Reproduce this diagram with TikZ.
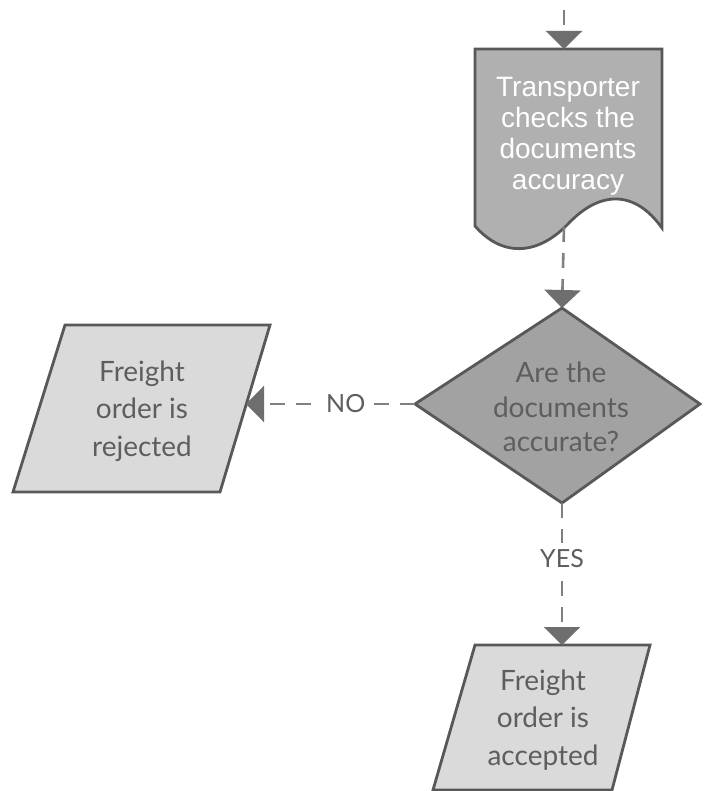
\documentclass[tikz,border=0pt]{standalone}
\usepackage{fontspec}
\setmainfont{Lato}
\newfontfamily\docfont{Liberation Sans}
\usetikzlibrary{arrows.meta}
\definecolor{edgegray}{HTML}{585858}
\definecolor{linkgray}{HTML}{808080}
\definecolor{tipgray}{HTML}{6E6E6E}
\definecolor{docfill}{HTML}{B0B0B0}
\definecolor{decfill}{HTML}{A2A2A2}
\definecolor{iofill}{HTML}{DADADA}
\definecolor{textgray}{HTML}{5E5E5E}
\begin{document}
\begin{tikzpicture}[x=1pt,y=-1pt,
  shapeedge/.style={draw=edgegray,line width=2.8pt,line join=miter},
  flowlabel/.style={text=textgray,font=\fontsize{28}{37.5}\selectfont,align=center,inner sep=0pt},
  decisionlabel/.style={flowlabel,font=\fontsize{28}{34.5}\selectfont},
  doclabel/.style={text=white,font=\docfont\fontsize{28}{31}\selectfont,align=center,inner sep=0pt},
  link/.style={draw=linkgray,line width=2.6pt,dash pattern=on 15pt off 11pt,
    -{Triangle[length=18pt,width=36pt,color=tipgray]}},
  linklabel/.style={text=textgray,font=\fontsize{25}{28}\selectfont,fill=white,inner sep=6pt}]
\useasboundingbox (0,0) rectangle (704,791);
\fill[white] (0,0) rectangle (704,791);

% document shape: transporter check
\path[shapeedge,fill=docfill] (475,49) -- (662,49) -- (662,228)
  .. controls (635,190) and (600,190) .. (568,224)
  .. controls (535,258) and (500,255) .. (475,226) -- cycle;
\node[doclabel] (check) at (568,136) {Transporter\\checks the\\documents\\accuracy};
\coordinate (checktop) at (564,49);
\coordinate (checkbot) at (564,227);
\coordinate (incoming) at (564,10);

% decision diamond
\path[shapeedge,fill=decfill] (562,308) -- (700,404) -- (562,503) -- (415,404) -- cycle;
\node[decisionlabel] (decide) at (561,407) {Are the\\documents\\accurate?};
\coordinate (dectop) at (562,308);
\coordinate (decleft) at (415,404);
\coordinate (decbot) at (562,503);

% rejected (input/output parallelogram)
\path[shapeedge,fill=iofill] (65,325) -- (270,325) -- (220,492) -- (13,492) -- cycle;
\node[flowlabel] (reject) at (142,411) {Freight\\order is\\rejected};
\coordinate (rejright) at (246,404);

% accepted (input/output parallelogram)
\path[shapeedge,fill=iofill] (475,645) -- (650,645) -- (612,790) -- (433,790) -- cycle;
\node[flowlabel] (accept) at (543,720) {Freight\\order is\\accepted};
\coordinate (acctop) at (562,645);

% connectors
\draw[link] (incoming) -- (checktop);
\draw[link] (checkbot) -- (dectop);
\draw[link] (decleft) -- node[linklabel,pos=0.41] (no) {NO} (rejright);
\draw[link] (decbot) -- node[linklabel,pos=0.39] (yes) {YES} (acctop);
\end{tikzpicture}
\end{document}
